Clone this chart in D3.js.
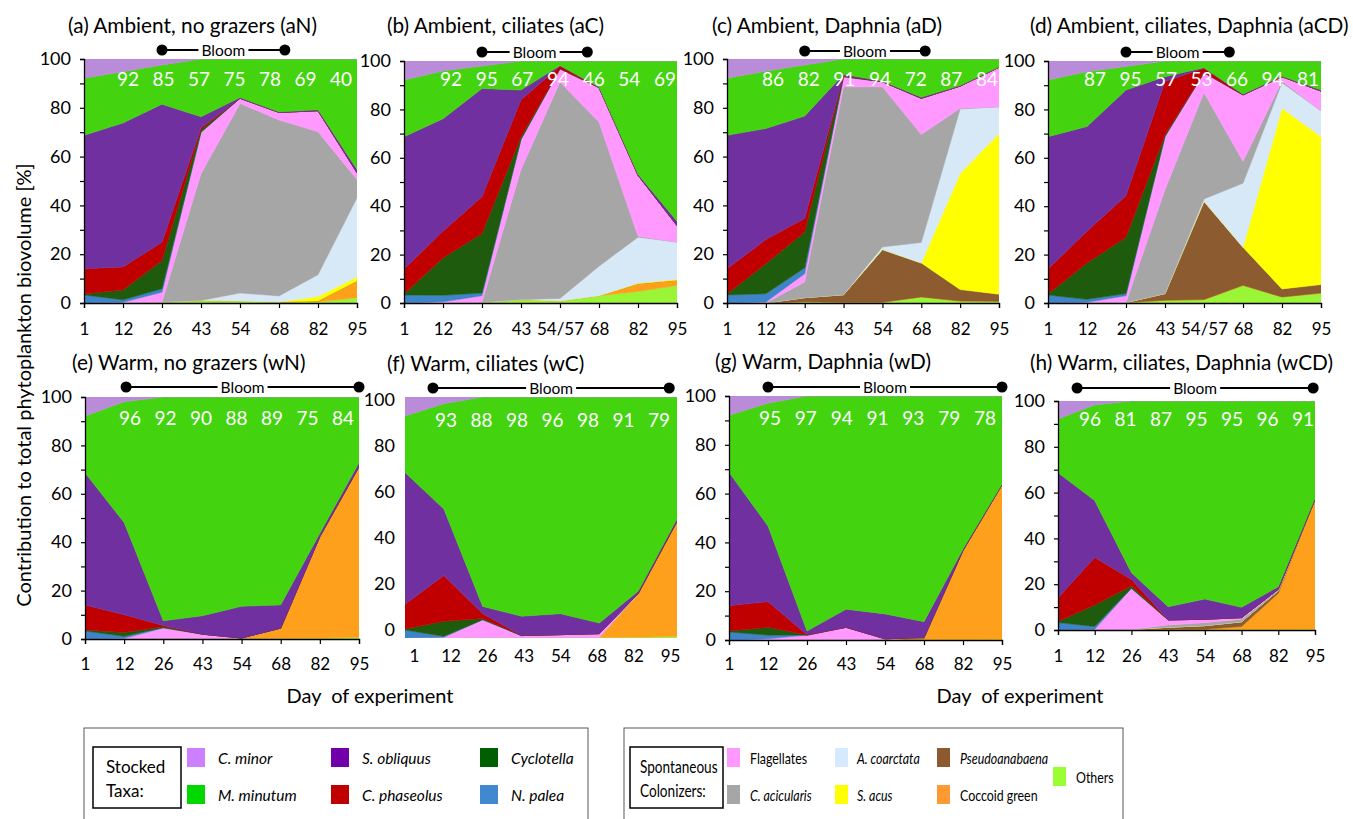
<!DOCTYPE html>
<html>
<head>
<meta charset="utf-8">
<script src="https://cdn.jsdelivr.net/npm/d3@7"></script>
<style>
body{margin:0;background:#fff;}
svg{display:block;font-family:Lato,'Open Sans',sans-serif;}
</style>
</head>
<body>
<svg id="chart" width="1353" height="819"></svg>
<script>
// stacking order, bottom -> top
const seriesNames=['Others','Coccoid green','Pseudoanabaena','S. acus','A. coarctata','C. acicularis','Flagellates','N. palea','Cyclotella','C. phaseolus','S. obliquus','M. minutum','C. minor'];
const areaColors=['#9bf537','#ffa01c','#8c5b30','#ffff00','#d7e9f7','#a6a6a6','#ff99ff','#3d85c8','#1f5b0c','#c00000','#7030a0','#43d40f','#b98bd9'];
const legendColors=['#99ff33','#ff9933','#8c5a2e','#ffff00','#d6eaff','#a6a6a6','#ff99ff','#4088d0','#006000','#c00000','#7000aa','#00d800','#cc80ff'];

const dayLabels=['1','12','26','43','54','68','82','95'];
const dayLabelsAlt=['1','12','26','43','54/57','68','82','95'];

const titles=['(a) Ambient, no grazers (aN)','(b) Ambient, ciliates (aC)','(c) Ambient, Daphnia (aD)','(d) Ambient, ciliates, Daphnia (aCD)',
  '(e) Warm, no grazers (wN)','(f) Warm, ciliates (wC)','(g) Warm, Daphnia (wD)','(h) Warm, ciliates, Daphnia (wCD)'];

// % of each taxon, rows follow seriesNames, columns follow days
const aN=[
 [0,0,0.4,1,0.8,0.4,0.5,2.2],
 [0,0,0,0,0,0,0.3,6.8],
 [0,0,0,0,0,0,0,0],
 [0,0,0,0,0,0,1.9,1.7],
 [0,0,0,0,3.3,2.5,8.9,32.4],
 [0,0,0,52,77.7,72.1,58.6,7.5],
 [0,0.3,4,17,2.1,3.1,8.6,2.8],
 [3.3,1,1.4,0,0,0,0,0],
 [0.4,4,11.6,1,0,0,0,0],
 [10.3,9.5,7.5,0.8,0,0,0,0],
 [54.7,59,56.5,4.5,0.3,0.2,0.4,1.3],
 [23.4,21,16,23.7,15.8,21.7,20.8,45.3],
 [7.9,5.2,2.5,0,0,0,0,0]];
const aC=[
 [0,0,0.3,1.4,0.8,3,4.8,7.2],
 [0,0,0,0,0,0,3.2,2.2],
 [0,0,0,0,0,0,0,0],
 [0,0,0,0,0,0,0.2,0.4],
 [0,0,0,0,1.1,12.2,19,15.4],
 [0,0,0,53.8,89.4,59.6,0.4,0],
 [0,0.5,2.7,12.4,5.5,14.2,25.2,6.8],
 [3.3,2.7,1.1,0,0,0,0,0],
 [0.4,15.4,24.6,1.1,0,0,0,0],
 [10.3,11.1,15.2,15.2,1.1,0,0,0],
 [54.7,46.4,44.7,4.1,0.2,0.2,0.4,1.8],
 [23.4,19.8,9.3,12,1.9,10.8,46.8,66.2],
 [7.9,4.1,2.1,0,0,0,0,0]];
const aD=[
 [0,0,0.5,0.3,0.3,2.5,0.8,0.7],
 [0,0,0,0,0,0,0,0],
 [0,0,1.7,3.1,21.6,13.9,4.7,2.9],
 [0,0,0,0,0,0,47.6,65.9],
 [0,0,0,0,1.1,8.4,26.4,10.9],
 [0,0,6.4,85.2,65.6,44.3,0.3,0],
 [0,0.4,3.4,4.1,2.1,14.8,9.1,16.2],
 [3.3,3.4,2.4,0,0,0,0,0],
 [0.4,12.3,14.7,0.3,0,0,0,0],
 [10.3,9.9,5.5,0.2,0,0,0,0],
 [54.7,45.5,42,0.5,0.2,0.4,0.2,0.1],
 [23.4,23.5,20.9,6.3,9.1,15.7,10.9,3.3],
 [7.9,5,2.5,0,0,0,0,0]];
const aCD=[
 [0,0,0.2,1.1,1.4,7.3,2.5,4.1],
 [0,0,0,0,0,0,0,0],
 [0,0,0,2.8,40.6,15.7,3.3,3.5],
 [0,0,0,0,0,0,74.7,61.2],
 [0,0,0,0,1,26.5,10.5,10.6],
 [0,0,0,42.9,44,9,0.7,0],
 [0,0.3,2.8,22,8.2,27.5,1.8,8.2],
 [3.3,1.2,0.9,0,0,0,0,0],
 [0.4,15,23.3,0.7,0,0,0,0],
 [10.3,13.1,17.1,22,1.8,0,0,0],
 [54.7,43.3,43.7,2,0.2,0.3,0.2,0.4],
 [23.4,22.7,9.7,6.5,2.8,13.7,6.3,12],
 [7.9,4.4,2.3,0,0,0,0,0]];
const wN=[
 [0,0,0.2,0.2,0.2,0.2,0.3,0.7],
 [0,0,0,0,0,4.3,42,70.5],
 [0,0,0,0,0,0,0,0],
 [0,0,0,0,0,0,0,0],
 [0,0,0,0,0,0,0,0],
 [0,0,0,0,0,0,0,0],
 [0,0.3,4.3,1.8,0.2,0,0,0],
 [3.3,0.8,0.2,0,0,0,0,0],
 [0.4,1.6,0.4,0,0,0,0,0],
 [10.3,7.3,0.5,0,0,0,0,0],
 [54.7,38.1,1.9,7.6,13.1,9.6,1.4,1.6],
 [23.4,49.9,92.5,90.4,86.5,85.9,56.3,27.2],
 [7.9,2,0,0,0,0,0,0]];
const wC=[
 [0,0,0.2,0.2,0.2,0.2,0.3,0.7],
 [0,0,0,0,0,0,18.1,47.7],
 [0,0,0,0,0,0,0,0],
 [0,0,0,0,0,0,0,0],
 [0,0,0,0,0,0,0,0],
 [0,0,0,0,0,0,0,0],
 [0,0.3,7.4,0.8,1.2,1.6,0,0],
 [3.3,0.4,0,0,0,0,0,0],
 [0.4,6.2,0.5,0,0,0,0,0],
 [10.3,19,2,0,0,0,0,0],
 [54.7,27.6,3,8,8.7,4.4,1,1],
 [23.4,43.7,86.9,91,89.9,93.8,80.6,50.6],
 [7.9,2.8,0,0,0,0,0,0]];
const wD=[
 [0,0,0.2,0.2,0.2,0.2,0.2,0.3],
 [0,0,0,0,0,0.3,36.5,63.3],
 [0,0,0,0,0,0.5,0,0],
 [0,0,0,0,0,0,0,0],
 [0,0,0,0,0,0,0,0],
 [0,0,0,0,0,0,0,0],
 [0,0.5,1.8,5,0.3,0,0,0],
 [3.3,1.5,0,0,0,0,0,0],
 [0.4,3.2,0,0,0,0,0,0],
 [10.3,10.5,0.2,0,0,0,0,0],
 [54.7,31,1.5,7.4,10.2,6.5,0.6,0.3],
 [23.4,50.3,96.3,87.4,89.3,92.5,62.7,36.1],
 [7.9,3,0,0,0,0,0,0]];
const wCD=[
 [0,0,0.2,0.3,0.3,0.2,0.2,0.3],
 [0,0,0,0,0,1.3,15.8,56.7],
 [0,0,0,0.9,1.6,2.1,1.2,0],
 [0,0,0,0,0,0,0,0],
 [0,0,0,0,0,0,0,0],
 [0,0,0,1,1.3,1.1,0.3,0],
 [0,0.3,18,2.2,1.5,0.7,0.3,0],
 [3.3,1.2,0,0,0,0,0,0],
 [0.4,9.4,1,0,0,0,0,0],
 [10.3,20.8,2.9,0,0,0,0,0],
 [54.7,24.8,2.9,5.8,8.8,4.5,1.1,0.5],
 [23.4,41.8,75,89.8,86.5,90.1,81.1,42.5],
 [7.9,1.7,0,0,0,0,0,0]];

// white numbers printed over days 12..95
const pctLabels=[
 [92,85,57,75,78,69,40],
 [92,95,67,94,46,54,69],
 [86,82,91,94,72,87,84],
 [87,95,57,53,66,94,81],
 [96,92,90,88,89,75,84],
 [93,88,98,96,98,91,79],
 [95,97,94,91,93,79,78],
 [96,81,87,95,95,96,91]];
// bloom period, in sampling-index units
const bloomSpans=[[2,5.15],[2,4.7],[2,5.1],[2,4.65],[1.05,7],[0.72,6.8],[1,7],[0.52,6.95]];

const panelData=[aN,aC,aD,aCD,wN,wC,wD,wCD];

// layout
const boxes=[
 {l:84,r:357,t:59,b:303,tx:68,ty:24,by:50,ny:78,n0:128,n1:341,xl:328,alt:false},
 {l:404,r:677,t:61,b:303,tx:387,ty:24,by:52,ny:78,n0:451,n1:665,xl:328,alt:true},
 {l:727,r:999,t:59,b:303,tx:712,ty:24,by:51,ny:78,n0:773,n1:987,xl:328,alt:false},
 {l:1048,r:1321,t:61,b:303,tx:1030,ty:24,by:52,ny:78,n0:1095,n1:1308,xl:328,alt:true},
 {l:85,r:359,t:397,b:639,tx:72,ty:361,by:387,ny:417,n0:130,n1:343,xl:663,alt:false},
 {l:405,r:677,t:397,b:638,tx:387,ty:362,by:388,ny:419,n0:446,n1:659,xl:655,alt:false,bare:true},
 {l:729,r:1002,t:396,b:640,tx:715,ty:360,by:387,ny:417,n0:770,n1:985,xl:663,alt:false},
 {l:1058,r:1315,t:401,b:630,tx:1030,ty:361,by:388,ny:418,n0:1090,n1:1303,xl:655,alt:false}
];

const svg=d3.select('#chart');
const keys=d3.range(seriesNames.length);

panelData.forEach((vals,p)=>{
  const bx=boxes[p];
  const x=d3.scaleLinear().domain([0,7]).range([bx.l,bx.r]);
  const y=d3.scaleLinear().domain([0,1]).range([bx.b,bx.t]);
  const rows=d3.range(8).map(j=>{const o={};keys.forEach(k=>o[k]=vals[k][j]);return o;});
  const layers=d3.stack().keys(keys).offset(d3.stackOffsetExpand)(rows);
  const area=d3.area().x((d,i)=>x(i)).y0(d=>y(d[0])).y1(d=>y(d[1]));
  const g=svg.append('g');
  g.append('clipPath').attr('id','clip'+p).append('rect')
    .attr('x',bx.l).attr('y',bx.t).attr('width',bx.r-bx.l).attr('height',bx.b-bx.t);
  g.append('g').attr('clip-path',`url(#clip${p})`)
    .selectAll('path').data(layers).join('path')
    .attr('d',area)
    .attr('fill',(d,i)=>areaColors[i])
    .attr('stroke',(d,i)=>areaColors[i]).attr('stroke-width',0.5).attr('stroke-linejoin','round');

  const labs=bx.alt?dayLabelsAlt:dayLabels;
  if(!bx.bare){
    const ya=d3.axisLeft(y).tickValues(d3.range(0,11).map(v=>v/10)).tickSize(4).tickPadding(9)
      .tickFormat(v=>{const n=Math.round(v*100);return n%20===0?n:'';});
    const ga=g.append('g').attr('transform',`translate(${bx.l},0)`).call(ya);
    const xa=d3.axisBottom(x).tickValues(d3.range(8)).tickSize(5).tickPadding(12).tickFormat(i=>labs[i]);
    const gx=g.append('g').attr('transform',`translate(0,${bx.b})`).call(xa);
    [ga,gx].forEach(a=>{
      a.select('.domain').attr('stroke','#000').attr('stroke-width',1.3);
      a.selectAll('.tick line').attr('stroke','#000').attr('stroke-width',1.2);
      a.selectAll('text').attr('font-size',17).attr('fill','#000').attr('font-family','Lato,sans-serif');
    });
    ga.selectAll('text').attr('font-size',18);
    gx.selectAll('text').attr('dy',null).attr('dominant-baseline','central').attr('y',bx.xl-bx.b);
  } else {
    // this panel carries shifted labels and no axis lines
    const yl=d3.scaleLinear().domain([0,1]).range([630,400]);
    const xl=d3.scaleLinear().domain([0,7]).range([414,670]);
    const ga=g.append('g').attr('transform',`translate(${bx.l},0)`)
      .call(d3.axisLeft(yl).tickValues(d3.range(0,6).map(v=>v/5)).tickSize(0).tickPadding(10).tickFormat(v=>Math.round(v*100)));
    const gx=g.append('g').attr('transform',`translate(0,630)`)
      .call(d3.axisBottom(xl).tickValues(d3.range(8)).tickSize(0).tickPadding(12).tickFormat(i=>labs[i]));
    [ga,gx].forEach(a=>{
      a.select('.domain').remove();
      a.selectAll('text').attr('font-size',17).attr('fill','#000').attr('font-family','Lato,sans-serif');
    });
    ga.selectAll('text').attr('font-size',18);
    gx.selectAll('text').attr('dy',null).attr('dominant-baseline','central').attr('y',bx.xl-630);
  }

  // title
  svg.append('text').attr('x',bx.tx).attr('y',bx.ty).attr('dominant-baseline','central')
    .attr('font-size',20.8).attr('fill','#000').text(titles[p]);

  // white percentages
  const nx=d3.scaleLinear().domain([1,7]).range([bx.n0,bx.n1]);
  svg.append('g').selectAll('text').data(pctLabels[p]).join('text')
    .attr('x',(d,i)=>nx(i+1)).attr('y',bx.ny).attr('text-anchor','middle').attr('dominant-baseline','central')
    .attr('font-size',19).attr('fill','#fff').text(d=>d);

  // bloom marker
  const [b0,b1]=bloomSpans[p];
  const bl=svg.append('g');
  const x0=x(b0),x1=x(b1),xm=(x0+x1)/2;
  bl.append('line').attr('x1',x0).attr('x2',x1).attr('y1',bx.by).attr('y2',bx.by).attr('stroke','#000').attr('stroke-width',2.2);
  bl.selectAll('circle').data([x0,x1]).join('circle').attr('cx',d=>d).attr('cy',bx.by).attr('r',5.5).attr('fill','#000');
  bl.append('rect').attr('x',xm-25).attr('y',bx.by-8).attr('width',50).attr('height',16).attr('fill','#fff');
  bl.append('text').attr('x',xm).attr('y',bx.by).attr('text-anchor','middle').attr('dominant-baseline','central')
    .attr('font-size',15.5).attr('fill','#000').text('Bloom');
});

// shared axis titles
svg.append('text').attr('transform','translate(23,385) rotate(-90)').attr('text-anchor','middle').attr('dominant-baseline','central')
  .attr('font-size',20).attr('fill','#000').text('Contribution to total phytoplankton biovolume [%]');
[370,1020].forEach(cx=>{
  svg.append('text').attr('x',cx).attr('y',695).attr('text-anchor','middle').attr('dominant-baseline','central')
    .attr('font-size',20).attr('fill','#000').style('white-space','pre').text('Day  of experiment');
});

// legends
const stocked=[12,11,10,9,8,7];      // C. minor, M. minutum, S. obliquus, C. phaseolus, Cyclotella, N. palea
const colonizers=[6,5,4,3,2,1];      // Flagellates, C. acicularis, A. coarctata, S. acus, Pseudoanabaena, Coccoid green
const plainNames=new Set(['Flagellates','Coccoid green','Others']);

function addText(g,x,y,str,size,italic,sx){
  return g.append('text').attr('transform',`translate(${x},${y}) scale(${sx},1)`)
    .attr('dominant-baseline','central').attr('font-size',size)
    .attr('font-style',italic?'italic':'normal').attr('fill','#000').text(str);
}
function legendBox(x,w,innerX,innerW,lines,sx){
  const g=svg.append('g');
  g.append('rect').attr('x',x).attr('y',728).attr('width',w).attr('height',120).attr('fill','#fff').attr('stroke','#595959').attr('stroke-width',1);
  g.append('rect').attr('x',innerX).attr('y',747).attr('width',innerW).attr('height',61).attr('fill','#fff').attr('stroke','#000').attr('stroke-width',1.5);
  lines.forEach((t,i)=>addText(g,innerX+(sx<1?10:13),766+i*24,t,17,false,sx));
  return g;
}
function legendItem(g,s,sx,sy,sw,tx,scx){
  g.append('rect').attr('x',sx).attr('y',sy).attr('width',sw).attr('height',19).attr('fill',legendColors[s]);
  addText(g,tx,sy+10,seriesNames[s],15.5,!plainNames.has(seriesNames[s]),scx);
}
const lg1=legendBox(84,504,93,88,['Stocked','Taxa:'],1);
const col1=[[187,218],[331,362],[480,511]];
stocked.forEach((s,i)=>{const c=col1[Math.floor(i/2)];legendItem(lg1,s,c[0],i%2?785:748,18,c[1],1);});
const lg2=legendBox(624,499,630,93,['Spontaneous','Colonizers:'],0.8);
const col2=[[727,750],[835,857],[937,960]];
colonizers.forEach((s,i)=>{const c=col2[Math.floor(i/2)];legendItem(lg2,s,c[0],i%2?785:748,13,c[1],0.8);});
legendItem(lg2,0,1053,767,13,1076,0.8);
</script>
</body>
</html>
